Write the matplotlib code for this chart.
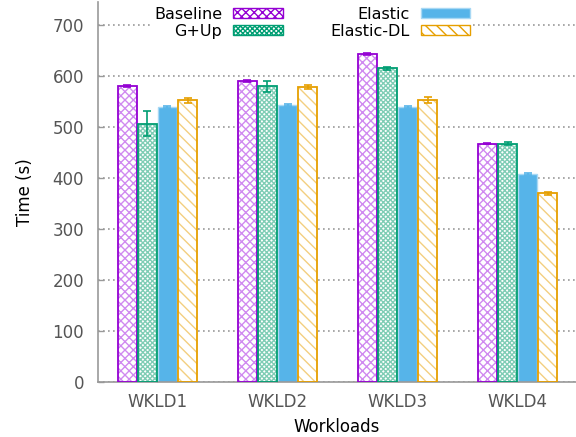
import matplotlib
matplotlib.use("Agg")
import matplotlib.pyplot as plt
import numpy as np

categories = ["WKLD1", "WKLD2", "WKLD3", "WKLD4"]
series = ["Baseline", "G+Up", "Elastic", "Elastic-DL"]
baseline = [580, 591, 643, 467]
gup = [507, 580, 615, 467]
elastic = [540, 544, 540, 407]
elasticdl = [553, 578, 553, 370]
baseline_err = [2, 2, 2, 1]
gup_err = [25, 11, 3, 3]
elastic_err = [2, 2, 2, 2]
elasticdl_err = [5, 4, 6, 3]

values = [baseline, gup, elastic, elasticdl]
errors = [baseline_err, gup_err, elastic_err, elasticdl_err]
colors = ["#9400D3", "#009E73", "#56B4E9", "#E69F00"]
light = ["#D08AF0", "#7FCDB5", "#56B4E9", "#F3CF80"]
hatches = ["xxxx", "xxxxxxx", None, "\\\\\\"]

plt.rcParams['font.family'] = ['DejaVu Sans']
plt.rcParams['hatch.linewidth'] = 1.0
fig = plt.figure(figsize=(5.76, 4.37), dpi=100)
ax = fig.add_axes([0.170, 0.126, 0.830, 0.869])

x = np.arange(len(categories))
w = 0.160
step = 0.167
offsets = (np.arange(4) - 1.5) * step
handles = []
for i in range(4):
    pos = x + offsets[i]
    if hatches[i] is None:
        b = ax.bar(pos, values[i], w, color=colors[i], edgecolor="#A8D8F4", linewidth=1.0, zorder=2)
        h = b
    else:
        ax.bar(pos, values[i], w, color="white", edgecolor=light[i], hatch=hatches[i], linewidth=0, zorder=2)
        ax.bar(pos, values[i], w, fill=False, edgecolor=colors[i], linewidth=1.3, zorder=3)
        h = ax.bar([np.nan], [np.nan], w, facecolor="white", edgecolor=colors[i], hatch=hatches[i], linewidth=1.0)
    ax.errorbar(pos, values[i], yerr=errors[i], fmt="none", ecolor=colors[i], elinewidth=1.2, capsize=3, capthick=1.2, zorder=4)
    handles.append(h)

ax.set_xlim(-0.496, 3.487)
ax.set_ylim(0, 745)
ax.set_yticks(range(0, 701, 100))
ax.set_xticks(x)
ax.set_xticklabels(categories)
ax.tick_params(direction="in", length=4, width=1, color="#999999", labelsize=12, labelcolor="#555555")
ax.tick_params(axis="x", pad=8)
ax.tick_params(axis="y", pad=10)
ax.yaxis.grid(True, linestyle=(0, (1, 2)), color="#999999", linewidth=1.2, zorder=0)
ax.set_axisbelow(True)
for s in ["top", "right"]:
    ax.spines[s].set_visible(False)
for s in ["left", "bottom"]:
    ax.spines[s].set_color("#999999")
    ax.spines[s].set_linewidth(1.2)
ax.set_ylabel("Time (s)", fontsize=12, labelpad=13)
ax.set_xlabel("Workloads", fontsize=12, labelpad=5)

leg = fig.legend(handles, series, ncol=2, loc="upper left", bbox_to_anchor=(143 / 576, 1.010),
                 bbox_transform=fig.transFigure,
                 markerfirst=False, frameon=True, fancybox=False, edgecolor="none",
                 facecolor="white", framealpha=1, fontsize=11.5, handlelength=3.1,
                 handleheight=0.55, columnspacing=2.95, labelspacing=0.12, handletextpad=0.7,
                 borderpad=0.2)
for t in leg.get_texts():
    t.set_ha("right")
fig.savefig("out.png", dpi=100)
